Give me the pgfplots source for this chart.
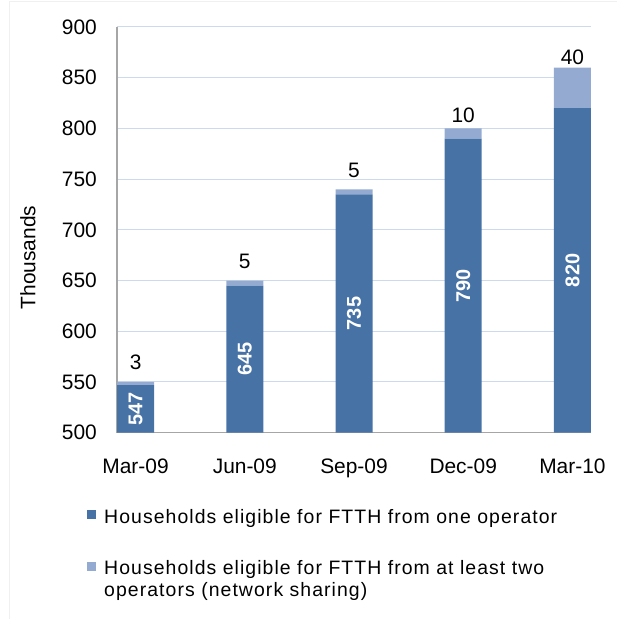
\documentclass[border=0pt]{standalone}
\usepackage{pgfplots}
\pgfplotsset{compat=1.18}
\usepackage{fontspec}
\setmainfont{Liberation Sans}
\newfontfamily\legfont[LetterSpace=5.5]{Liberation Sans}
\definecolor{darkb}{HTML}{4672A6}
\definecolor{lightb}{HTML}{95AAD1}
\definecolor{gridc}{HTML}{CCDAEC}
\definecolor{axisc}{HTML}{A6A6A6}
\begin{document}
\begin{tikzpicture}[x=1bp,y=1bp]
\path[use as bounding box] (0,0) rectangle (617,619);
\draw[color=black!6, line width=0.8bp] (9.5,0) -- (9.5,617.5) -- (617,617.5);
\begin{axis}[
  at={(117bp,186.3bp)}, anchor=south west,
  scale only axis, width=474bp, height=405.7bp,
  ybar stacked, bar width=37bp,
  xmin=-0.17, xmax=4.17, ymin=500, ymax=900,
  xtick={0,1,2,3,4}, xticklabels={Mar-09,Jun-09,Sep-09,Dec-09,Mar-10},
  ytick={500,550,600,650,700,750,800,850,900},
  ymajorgrids, grid style={gridc, line width=1bp},
  axis x line*=bottom, axis y line*=left,
  axis line style={axisc, line width=1.2bp, -},
  major tick length=0pt,
  tick label style={font=\fontsize{21}{24}\selectfont},
  /pgf/number format/assume math mode=true,
  xticklabel style={yshift=-23bp},
  yticklabel style={xshift=-16.7bp},
  ylabel={Thousands},
  ylabel style={at={(axis description cs:-0.1878,0.432)}, anchor=center, font=\fontsize{21}{24}\selectfont},
  legend style={at={(rel axis cs:-0.0633,-0.183)}, anchor=north west, draw=none, fill=none,
    inner sep=0pt, column sep=6bp, row sep=32bp, font=\legfont\fontsize{19.5}{22}\selectfont,
    cells={anchor=west, align=left, inner sep=0pt}},
]
\addplot[fill=darkb, draw=none, legend image code/.code={\fill[darkb] (0bp,-2.5bp) rectangle (9bp,6.5bp);}]
  coordinates {(0,547) (1,645) (2,735) (3,790) (4,820)};
\addlegendentry{Households eligible for FTTH from one operator}
\addplot[fill=lightb, draw=none, legend image code/.code={\fill[lightb] (0bp,8.5bp) rectangle (9bp,17.5bp);}]
  coordinates {(0,3) (1,5) (2,5) (3,10) (4,40)};
\addlegendentry{Households eligible for FTTH from at least two\\operators (network sharing)}
% value labels
\node[font=\fontsize{21}{24}\selectfont] at (axis cs:0,569.7) {3};
\node[font=\fontsize{21}{24}\selectfont] at (axis cs:1,669.3) {5};
\node[font=\fontsize{21}{24}\selectfont] at (axis cs:2,759) {5};
\node[font=\fontsize{21}{24}\selectfont] at (axis cs:3,812.7) {10};
\node[font=\fontsize{21}{24}\selectfont] at (axis cs:4,870) {40};
\coordinate (d0) at (axis cs:0,523.5);
\coordinate (d1) at (axis cs:1,572.5);
\coordinate (d2) at (axis cs:2,617.5);
\coordinate (d3) at (axis cs:3,645);
\coordinate (d4) at (axis cs:4,660);
\end{axis}
\begin{scope}[every node/.style={rotate=90, white, font=\bfseries\fontsize{20}{24}\selectfont}]
\node at (d0) {547};
\node at (d1) {645};
\node at (d2) {735};
\node at (d3) {790};
\node at (d4) {820};
\end{scope}
\end{tikzpicture}
\end{document}
